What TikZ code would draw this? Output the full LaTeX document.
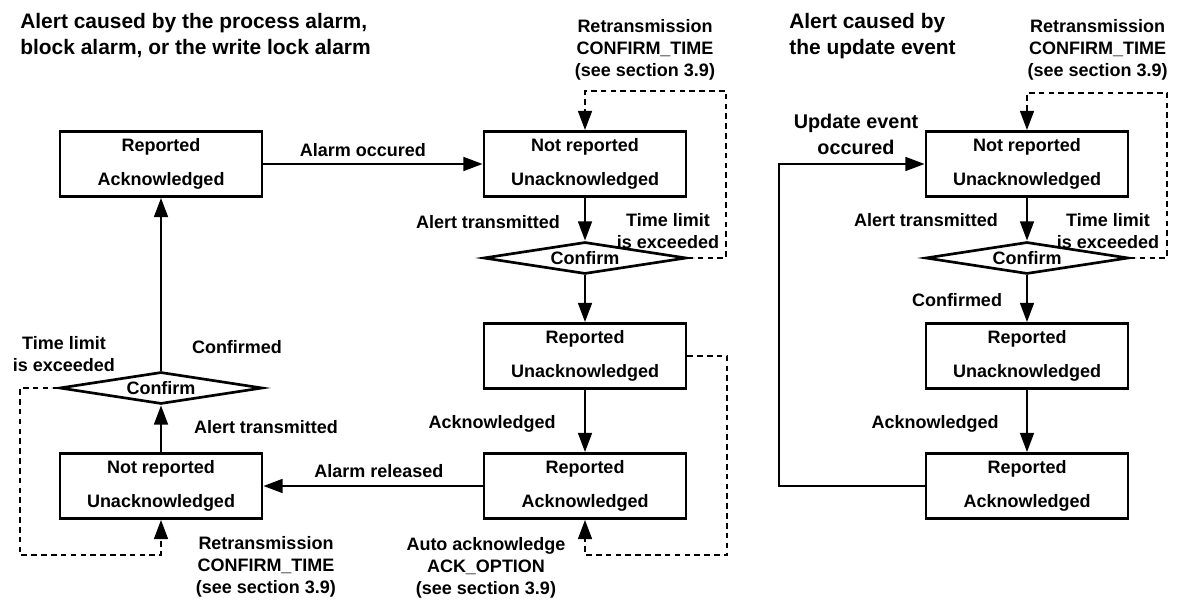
\documentclass[tikz,border=0pt]{standalone}
\usepackage{fontspec}
\setmainfont{Liberation Sans}
\usepackage{tikz}
\usetikzlibrary{arrows.meta,shapes.geometric}
\pgfdeclarelayer{edgelayer}
\pgfdeclarelayer{nodelayer}
\pgfsetlayers{edgelayer,nodelayer,main}
\tikzstyle{none}=[inner sep=0pt, align=center, font=\bfseries\fontsize{12.8}{15.6}\selectfont]
\tikzstyle{heading}=[inner sep=0pt, anchor=west, align=left, font=\bfseries\fontsize{14.9}{18.5}\selectfont]
\tikzstyle{event}=[inner sep=0pt, align=center, font=\bfseries\fontsize{14.1}{18.5}\selectfont]
\tikzstyle{state}=[draw, line width=1.9pt, minimum width=5.05cm, minimum height=1.625cm, inner sep=0pt, align=center, font=\bfseries\fontsize{12.8}{24}\selectfont]
\tikzstyle{decision}=[draw, diamond, aspect=6, line width=1.9pt, minimum width=5.075cm, minimum height=0.8cm, inner sep=0pt, font=\bfseries\fontsize{12.8}{15.6}\selectfont]
\tikzstyle{flow edge}=[-{Triangle[length=0.48cm,width=0.34cm]}, line width=1.9pt]
\tikzstyle{retry edge}=[-{Triangle[length=0.48cm,width=0.34cm]}, line width=1.9pt, dash pattern=on 4pt off 3pt]

\begin{document}
\begin{tikzpicture}
	\useasboundingbox (0, 0) rectangle (29.5, 15.05);
	\begin{pgfonlayer}{nodelayer}
		\node [style=heading] (0) at (0.5, 14.15) {Alert caused by the process alarm,\\block alarm, or the write lock alarm};
		\node [style=heading] (1) at (19.725, 14.15) {Alert caused by\\the update event};
		\node [style=state] (2) at (4.025, 10.95) {Reported\\Acknowledged};
		\node [style=state] (3) at (14.625, 10.95) {Not reported\\Unacknowledged};
		\node [style=decision] (4) at (14.625, 8.6) {Confirm};
		\node [style=state] (5) at (14.625, 6.15) {Reported\\Unacknowledged};
		\node [style=state] (6) at (14.625, 2.9) {Reported\\Acknowledged};
		\node [style=state] (7) at (4.025, 2.9) {Not reported\\Unacknowledged};
		\node [style=decision] (8) at (4.025, 5.35) {Confirm};
		\node [style=state] (9) at (25.675, 10.95) {Not reported\\Unacknowledged};
		\node [style=decision] (10) at (25.675, 8.6) {Confirm};
		\node [style=state] (11) at (25.675, 6.15) {Reported\\Unacknowledged};
		\node [style=state] (12) at (25.675, 2.9) {Reported\\Acknowledged};
		\node [style=none] (13) at (9.075, 11.3) {Alarm occured};
		\node [style=none] (14) at (16.125, 13.8) {Retransmission\\CONFIRM\_TIME\\(see section 3.9)};
		\node [style=none] (15) at (12.2, 9.5) {Alert transmitted};
		\node [style=none] (16) at (16.7, 9.275) {Time limit\\is exceeded};
		\node [style=none] (17) at (12.3, 4.45) {Acknowledged};
		\node [style=none] (18) at (12.15, 0.85) {Auto acknowledge\\ACK\_OPTION\\(see section 3.9)};
		\node [style=none] (19) at (9.475, 3.275) {Alarm released};
		\node [style=none] (20) at (5.925, 6.375) {Confirmed};
		\node [style=none] (21) at (1.6, 6.2) {Time limit\\is exceeded};
		\node [style=none] (22) at (6.65, 4.375) {Alert transmitted};
		\node [style=none] (23) at (6.65, 0.875) {Retransmission\\CONFIRM\_TIME\\(see section 3.9)};
		\node [style=event] (24) at (21.4, 11.7) {Update event\\occured};
		\node [style=none] (25) at (27.44, 13.8) {Retransmission\\CONFIRM\_TIME\\(see section 3.9)};
		\node [style=none] (26) at (23.15, 9.55) {Alert transmitted};
		\node [style=none] (27) at (27.7, 9.275) {Time limit\\is exceeded};
		\node [style=none] (28) at (23.925, 7.55) {Confirmed};
		\node [style=none] (29) at (23.375, 4.45) {Acknowledged};
		\coordinate (30) at (18.15, 8.6);
		\coordinate (31) at (18.15, 12.775);
		\coordinate (32) at (14.625, 12.775);
		\coordinate (33) at (18.175, 6.15);
		\coordinate (34) at (18.175, 1.175);
		\coordinate (35) at (14.625, 1.175);
		\coordinate (36) at (0.5, 5.35);
		\coordinate (37) at (0.5, 1.175);
		\coordinate (38) at (4.025, 1.175);
		\coordinate (39) at (29.175, 8.6);
		\coordinate (40) at (29.175, 12.725);
		\coordinate (41) at (25.675, 12.725);
		\coordinate (42) at (19.475, 2.9);
	\end{pgfonlayer}
	\begin{pgfonlayer}{edgelayer}
		\draw [style=flow edge] (2) to (3);
		\draw [style=flow edge] (3) to (4);
		\draw [style=flow edge] (4) to (5);
		\draw [style=flow edge] (5) to (6);
		\draw [style=flow edge] (6) to (7);
		\draw [style=flow edge] (7) to (8);
		\draw [style=flow edge] (8) to (2);
		\draw [style=flow edge] (9) to (10);
		\draw [style=flow edge] (10) to (11);
		\draw [style=flow edge] (11) to (12);
		\draw [style=flow edge] (12.west) -- (42) |- (9.west);
		\draw [style=retry edge] (4.east) -- (30) -- (31) -- (32) -- (3.north);
		\draw [style=retry edge] (5.east) -- (33) -- (34) -- (35) -- (6.south);
		\draw [style=retry edge] (8.west) -- (36) -- (37) -- (38) -- (7.south);
		\draw [style=retry edge] (10.east) -- (39) -- (40) -- (41) -- (9.north);
	\end{pgfonlayer}
\end{tikzpicture}
\end{document}
